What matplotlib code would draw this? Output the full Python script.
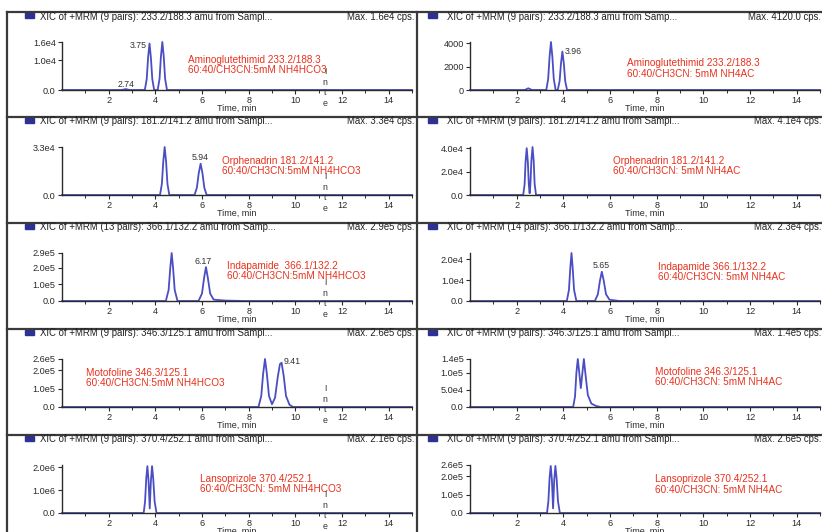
import matplotlib.pyplot as plt
from matplotlib.lines import Line2D
from matplotlib.patches import Rectangle
from matplotlib.transforms import blended_transform_factory

# ---- chromatogram traces (time in min, intensity in cps) ----
# left column: 60:40 CH3CN / 5mM NH4HCO3
amino_hco3_t = [0, 2.55, 2.74, 2.9, 3.55, 3.63, 3.69, 3.75, 3.81, 3.87, 3.95, 4.1, 4.18, 4.24, 4.3, 4.36, 4.42, 4.5, 15]
amino_hco3_y = [0, 0, 300, 0, 0, 3600, 10800, 15500, 10800, 3600, 0, 0, 3700, 11200, 16000, 11200, 3700, 0, 0]
orph_hco3_t = [0, 4.2, 4.28, 4.34, 4.4, 4.46, 4.52, 4.6, 5.68, 5.78, 5.86, 5.94, 6.02, 6.1, 6.2, 15]
orph_hco3_y = [0, 0, 7600, 23000, 33000, 23000, 7600, 0, 0, 5000, 15000, 21500, 15000, 5000, 0, 0]
indap_hco3_t = [0, 4.45, 4.57, 4.64, 4.7, 4.76, 4.83, 4.95, 5.85, 6.0, 6.09, 6.17, 6.25, 6.35, 6.5, 7.0, 7.8, 15]
indap_hco3_y = [0, 0, 67000, 200000, 290000, 200000, 67000, 0, 0, 45000, 140000, 205000, 140000, 45000, 8000, 2500, 0, 0]
moto_hco3_t = [0, 8.42, 8.54, 8.62, 8.7, 8.78, 8.87, 9.0, 9.13, 9.25, 9.34, 9.41, 9.5, 9.6, 9.75, 9.9, 15]
moto_hco3_y = [0, 0, 60000, 180000, 260000, 180000, 60000, 15000, 50000, 165000, 232000, 240000, 170000, 60000, 12000, 0, 0]
lanso_hco3_t = [0, 3.5, 3.56, 3.61, 3.66, 3.71, 3.76, 3.81, 3.86, 3.91, 3.97, 4.05, 15]
lanso_hco3_y = [0, 0, 500000, 1500000, 2050000, 1400000, 200000, 1400000, 2050000, 1500000, 500000, 0, 0]

# right column: 60:40 CH3CN / 5mM NH4AC
amino_ac_t = [0, 2.35, 2.5, 2.65, 3.27, 3.35, 3.41, 3.47, 3.53, 3.59, 3.67, 3.76, 3.84, 3.9, 3.96, 4.02, 4.08, 4.16, 15]
amino_ac_y = [0, 0, 150, 0, 0, 950, 2850, 4120, 2850, 950, 0, 0, 760, 2300, 3300, 2300, 760, 0, 0]
orph_ac_t = [0, 2.28, 2.34, 2.38, 2.43, 2.48, 2.52, 2.555, 2.59, 2.63, 2.68, 2.73, 2.77, 2.83, 15]
orph_ac_y = [0, 0, 9000, 28000, 40000, 28000, 9000, 1500, 9500, 29000, 41000, 29000, 9500, 0, 0]
indap_ac_t = [0, 4.15, 4.24, 4.3, 4.35, 4.4, 4.46, 4.56, 5.35, 5.48, 5.57, 5.65, 5.73, 5.83, 5.98, 6.4, 15]
indap_ac_y = [0, 0, 5300, 16000, 23000, 16000, 5300, 0, 0, 3200, 9800, 14000, 9800, 3200, 600, 0, 0]
moto_ac_t = [0, 4.42, 4.5, 4.56, 4.62, 4.69, 4.75, 4.81, 4.88, 4.95, 5.05, 5.2, 5.4, 5.6, 15]
moto_ac_y = [0, 0, 30000, 100000, 140000, 95000, 55000, 95000, 140000, 95000, 35000, 10000, 3000, 0, 0]
lanso_ac_t = [0, 3.3, 3.36, 3.41, 3.46, 3.51, 3.56, 3.61, 3.66, 3.71, 3.77, 3.85, 15]
lanso_ac_y = [0, 0, 65000, 190000, 255000, 180000, 25000, 180000, 255000, 190000, 65000, 0, 0]

# ---- texts ----
headers_left = ["XIC of +MRM (9 pairs): 233.2/188.3 amu from Sampl...",
                "XIC of +MRM (9 pairs): 181.2/141.2 amu from Sampl...",
                "XIC of +MRM (13 pairs): 366.1/132.2 amu from Samp...",
                "XIC of +MRM (9 pairs): 346.3/125.1 amu from Sampl...",
                "XIC of +MRM (9 pairs): 370.4/252.1 amu from Sampl..."]
headers_right = ["XIC of +MRM (9 pairs): 233.2/188.3 amu from Samp...",
                 "XIC of +MRM (9 pairs): 181.2/141.2 amu from Sampl...",
                 "XIC of +MRM (14 pairs): 366.1/132.2 amu from Samp...",
                 "XIC of +MRM (9 pairs): 346.3/125.1 amu from Sampl...",
                 "XIC of +MRM (9 pairs): 370.4/252.1 amu from Sampl..."]
max_left = [1.6e4, 3.3e4, 2.9e5, 2.6e5, 2.1e6]
max_right = [4120.0, 4.1e4, 2.3e4, 1.4e5, 2.6e5]
max_left_txt = ["Max. 1.6e4 cps.", "Max. 3.3e4 cps.", "Max. 2.9e5 cps.", "Max. 2.6e5 cps.", "Max. 2.1e6 cps."]
max_right_txt = ["Max. 4120.0 cps.", "Max. 4.1e4 cps.", "Max. 2.3e4 cps.", "Max. 1.4e5 cps.", "Max. 2.6e5 cps."]
compound_left = ["Aminoglutethimid 233.2/188.3\n60:40/CH3CN:5mM NH4HCO3",
                 "Orphenadrin 181.2/141.2\n60:40/CH3CN:5mM NH4HCO3",
                 "Indapamide  366.1/132.2\n60:40/CH3CN:5mM NH4HCO3",
                 "Motofoline 346.3/125.1\n60:40/CH3CN:5mM NH4HCO3",
                 "Lansoprizole 370.4/252.1\n60:40/CH3CN: 5mM NH4HCO3"]
compound_right = ["Aminoglutethimid 233.2/188.3\n60:40/CH3CN: 5mM NH4AC",
                  "Orphenadrin 181.2/141.2\n60:40/CH3CN: 5mM NH4AC",
                  "Indapamide 366.1/132.2\n60:40/CH3CN: 5mM NH4AC",
                  "Motofoline 346.3/125.1\n60:40/CH3CN: 5mM NH4AC",
                  "Lansoprizole 370.4/252.1\n60:40/CH3CN: 5mM NH4AC"]
yticks_left = [[0, 1.0e4, 1.6e4], [0, 3.3e4], [0, 1e5, 2e5, 2.9e5], [0, 1e5, 2e5, 2.6e5], [0, 1e6, 2e6]]
ylabels_left = [["0.0", "1.0e4", "1.6e4"], ["0.0", "3.3e4"], ["0.0", "1.0e5", "2.0e5", "2.9e5"],
                ["0.0", "1.0e5", "2.0e5", "2.6e5"], ["0.0", "1.0e6", "2.0e6"]]
yticks_right = [[0, 2000, 4000], [0, 2e4, 4e4], [0, 1e4, 2e4], [0, 5e4, 1e5, 1.4e5], [0, 1e5, 2e5, 2.6e5]]
ylabels_right = [["0", "2000", "4000"], ["0.0", "2.0e4", "4.0e4"], ["0.0", "1.0e4", "2.0e4"],
                 ["0.0", "5.0e4", "1.0e5", "1.4e5"], ["0.0", "1.0e5", "2.0e5", "2.6e5"]]
# retention-time labels: (text, time, intensity, ha, va)
rt_left = [[("3.75", 3.62, 15000, "right", "center"), ("2.74", 2.74, 400, "center", "bottom")],
           [("5.94", 5.94, 22500, "center", "bottom")],
           [("6.17", 6.05, 212000, "center", "bottom")],
           [("9.41", 9.5, 245000, "left", "center")],
           []]
rt_right = [[("3.96", 4.05, 3300, "left", "center")],
            [],
            [("5.65", 5.62, 14800, "center", "bottom")],
            [],
            []]

# ---- layout (pixels of the 822x532 scan) ----
W, H = 822, 532
SEP = [12, 117, 223, 329, 435]
AX_X = [62, 470]
comp_pos_left = [(5.4, 0.52), (6.86, 0.6), (7.07, 0.63), (1.03, 0.6), (5.9, 0.61)]
comp_pos_right = [(6.74, 0.45), (6.14, 0.6), (8.06, 0.6), (7.93, 0.62), (7.93, 0.59)]

NARROW = ["Liberation Sans Narrow", "Liberation Sans"]
plt.rcParams["font.family"] = ["Liberation Sans", "DejaVu Sans"]

LINE = "#4a4ec2"
RED = "#e8311d"
DARK = "#2a2a2a"

def fx(px):
    return px / W

def fy(py):
    return 1 - py / H

fig = plt.figure(figsize=(W / 100, H / 100), dpi=100)

traces_left = [(amino_hco3_t, amino_hco3_y), (orph_hco3_t, orph_hco3_y), (indap_hco3_t, indap_hco3_y),
               (moto_hco3_t, moto_hco3_y), (lanso_hco3_t, lanso_hco3_y)]
traces_right = [(amino_ac_t, amino_ac_y), (orph_ac_t, orph_ac_y), (indap_ac_t, indap_ac_y),
                (moto_ac_t, moto_ac_y), (lanso_ac_t, lanso_ac_y)]

cols = [
    (traces_left, max_left, max_left_txt, headers_left, compound_left, comp_pos_left,
     yticks_left, ylabels_left, rt_left),
    (traces_right, max_right, max_right_txt, headers_right, compound_right, comp_pos_right,
     yticks_right, ylabels_right, rt_right),
]

for c, (traces, ymax, maxtxt, heads, comps, cpos, yt, yl, rts) in enumerate(cols):
    for r in range(5):
        s = SEP[r]
        ax = fig.add_axes([fx(AX_X[c]), fy(s + 78), 350 / W, 48 / H])
        t, y = traces[r]
        ax.plot(t, y, color=LINE, lw=1.3, clip_on=False)
        ax.set_xlim(0, 15)
        ax.set_ylim(0, ymax[r])
        for sp in ["top", "right"]:
            ax.spines[sp].set_visible(False)
        for sp in ["left", "bottom"]:
            ax.spines[sp].set_color(DARK)
            ax.spines[sp].set_linewidth(1.0)
        ax.set_xticks(range(2, 15, 2))
        ax.set_xticks(range(1, 16, 2), minor=True)
        ax.set_yticks(yt[r])
        ax.set_yticklabels(yl[r], fontfamily=NARROW, fontsize=6.4)
        ax.tick_params(direction="out", length=3, width=0.8, pad=1.5, labelsize=6.6, colors=DARK)
        ax.tick_params(which="minor", direction="out", length=2, width=0.7, colors=DARK)
        ax.set_xlabel("Time, min", fontsize=6.5, labelpad=-1, color=DARK)

        tr = blended_transform_factory(ax.transData, ax.transAxes)
        cx, cy = cpos[r]
        ax.text(cx, cy, comps[r], transform=tr, color=RED, fontsize=7.2,
                va="center", ha="left", linespacing=1.05)
        for txt, xt, yv, ha, va in rts[r]:
            ax.text(xt, yv, txt, fontsize=6.3, color="#333333", ha=ha, va=va, clip_on=False)
        if c == 0:
            for letter, fr in zip("Inte", [0.39, 0.16, -0.06, -0.29]):
                ax.text(11.27, fr, letter, transform=tr, fontsize=6.3, color="#333333",
                        ha="center", va="center", clip_on=False)

        # panel header
        hx = 40 if c == 0 else 447
        fig.text(fx(hx), fy(s + 4.5), heads[r], fontsize=6.9, fontfamily=NARROW,
                 va="center", ha="left", color="#222222")
        fig.text(fx(414 if c == 0 else 821), fy(s + 4.5), maxtxt[r], fontsize=6.9,
                 fontfamily=NARROW, va="center", ha="right", color="#222222")
        fig.add_artist(Rectangle((fx(25 if c == 0 else 428), fy(s + 5.5)), 9 / W, 5 / H,
                                 transform=fig.transFigure, color="#2e3192"))

# frame lines
for s in SEP:
    fig.add_artist(Line2D([fx(7), 1], [fy(s), fy(s)], transform=fig.transFigure,
                          color="#3a3a3a", lw=1.6))
fig.add_artist(Line2D([fx(417), fx(417)], [fy(SEP[0]), 0], transform=fig.transFigure,
                      color="#3a3a3a", lw=1.6))
fig.add_artist(Line2D([fx(7), fx(7)], [fy(SEP[0]), 0], transform=fig.transFigure,
                      color="#3a3a3a", lw=1.6))

fig.savefig("out.png", dpi=100)
